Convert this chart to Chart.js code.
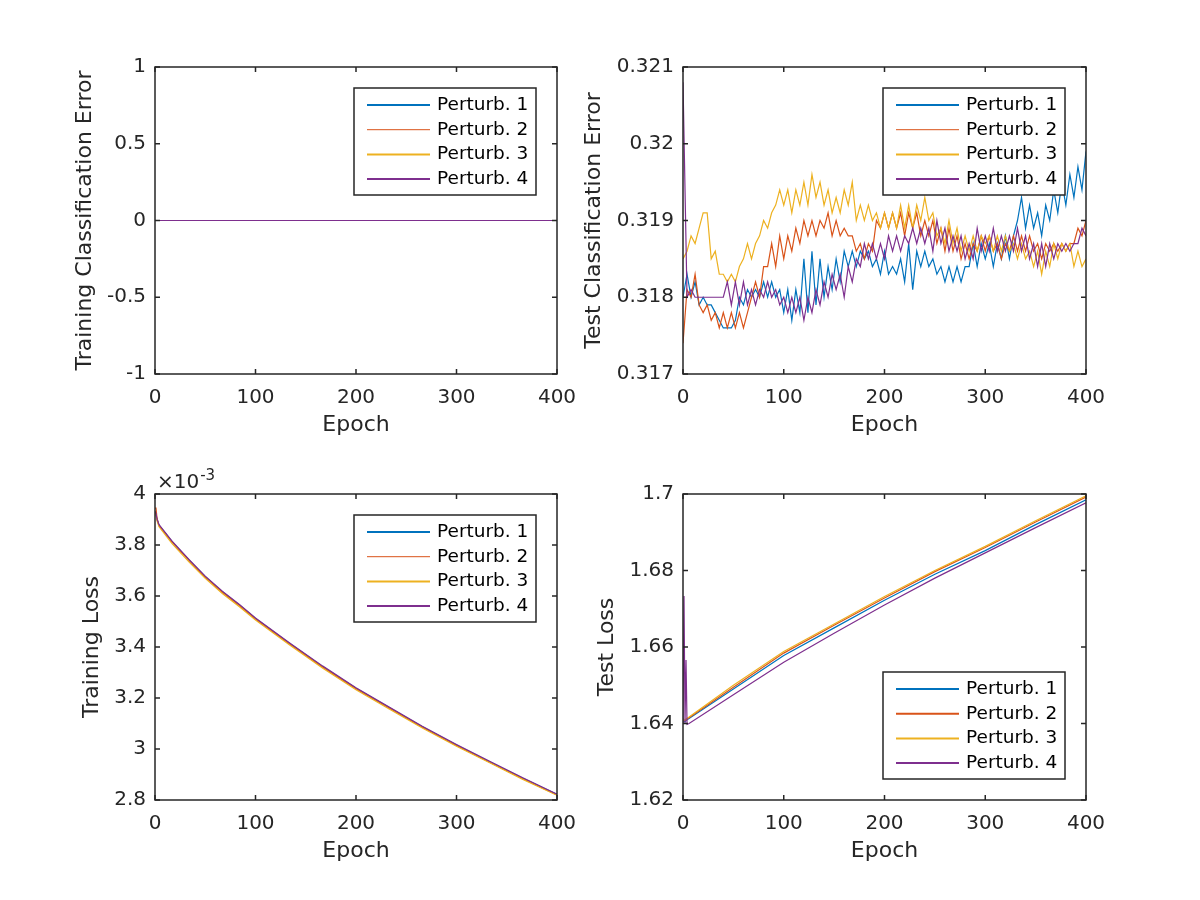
<!DOCTYPE html>
<html>
<head>
<meta charset="utf-8">
<script src="https://cdn.jsdelivr.net/npm/chart.js@4.4.1/dist/chart.umd.min.js"></script>
<style>
  html, body { margin: 0; padding: 0; background: #fff; }
  #fig { position: relative; width: 1200px; height: 900px; }
  #fig canvas { position: absolute; left: 0; top: 0; }
</style>
</head>
<body>
<div id="fig">
  <canvas id="trainErr" width="1200" height="900"></canvas>
  <canvas id="testErr" width="1200" height="900"></canvas>
  <canvas id="trainLoss" width="1200" height="900"></canvas>
  <canvas id="testLoss" width="1200" height="900"></canvas>
</div>
<script>
// ---- data ----
const names = ['Perturb. 1', 'Perturb. 2', 'Perturb. 3', 'Perturb. 4'];
const colors = ['#0072BD', '#D95319', '#EDB120', '#7E2F8E'];

const epochTicks = [0, 100, 200, 300, 400];
const epochTickLabels = ['0', '100', '200', '300', '400'];

// training classification error
const trainErrEpochs = [0, 400];
const trainErrP1 = [0, 0];
const trainErrP2 = [0, 0];
const trainErrP3 = [0, 0];
const trainErrP4 = [0, 0];
const trainErrTicks = [-1, -0.5, 0, 0.5, 1];
const trainErrTickLabels = ['-1', '-0.5', '0', '0.5', '1'];

// test classification error (every 4 epochs)
const testErrEpochs = [0,4,8,12,16,20,24,28,32,36,40,44,48,52,56,60,64,68,72,76,80,84,88,92,96,100,
  104,108,112,116,120,124,128,132,136,140,144,148,152,156,160,164,168,172,176,180,184,188,192,196,200,
  204,208,212,216,220,224,228,232,236,240,244,248,252,256,260,264,268,272,276,280,284,288,292,296,300,
  304,308,312,316,320,324,328,332,336,340,344,348,352,356,360,364,368,372,376,380,384,388,392,396,400];
const testErrP1 = [0.3180,0.3183,0.3180,0.3182,0.3179,0.3180,0.3179,0.3179,0.3178,0.3177,
  0.3176,0.3176,0.3176,0.3177,0.3180,0.3179,0.3181,0.3180,0.3181,0.3180,
  0.3182,0.3180,0.3182,0.3180,0.3181,0.3178,0.3181,0.3177,0.3181,0.3178,
  0.3185,0.3178,0.3186,0.3179,0.3185,0.3180,0.3184,0.3181,0.3185,0.3182,
  0.3186,0.3184,0.3186,0.3184,0.3186,0.3185,0.3186,0.3184,0.3185,0.3183,
  0.3186,0.3183,0.3184,0.3183,0.3185,0.3182,0.3187,0.3181,0.3186,0.3184,
  0.3186,0.3184,0.3185,0.3183,0.3184,0.3182,0.3184,0.3182,0.3184,0.3182,
  0.3184,0.3184,0.3187,0.3184,0.3187,0.3185,0.3187,0.3184,0.3187,0.3185,
  0.3188,0.3185,0.3188,0.3190,0.3193,0.3189,0.3192,0.3189,0.3191,0.3188,
  0.3192,0.3190,0.3194,0.3191,0.3195,0.3192,0.3196,0.3193,0.3197,0.3194,
  0.3199];
const testErrP2 = [0.3174,0.3181,0.3180,0.3183,0.3179,0.3178,0.3179,0.3177,0.3178,0.3176,
  0.3178,0.3176,0.3178,0.3176,0.3178,0.3176,0.3178,0.3180,0.3182,0.3180,
  0.3184,0.3184,0.3187,0.3184,0.3188,0.3185,0.3188,0.3186,0.3189,0.3187,
  0.3190,0.3188,0.3190,0.3188,0.3190,0.3189,0.3191,0.3188,0.3190,0.3188,
  0.3189,0.3188,0.3188,0.3186,0.3187,0.3185,0.3187,0.3186,0.3190,0.3189,
  0.3191,0.3189,0.3191,0.3189,0.3191,0.3188,0.3191,0.3189,0.3191,0.3188,
  0.3190,0.3188,0.3190,0.3187,0.3189,0.3186,0.3189,0.3186,0.3188,0.3185,
  0.3187,0.3185,0.3187,0.3186,0.3188,0.3186,0.3188,0.3186,0.3187,0.3185,
  0.3187,0.3186,0.3188,0.3186,0.3188,0.3186,0.3188,0.3186,0.3187,0.3185,
  0.3187,0.3186,0.3187,0.3186,0.3187,0.3186,0.3187,0.3187,0.3189,0.3188,
  0.3190];
const testErrP3 = [0.3185,0.3186,0.3188,0.3187,0.3189,0.3191,0.3191,0.3185,0.3186,0.3183,
  0.3183,0.3182,0.3183,0.3182,0.3184,0.3185,0.3187,0.3185,0.3187,0.3188,
  0.3190,0.3189,0.3191,0.3192,0.3194,0.3192,0.3194,0.3191,0.3194,0.3192,
  0.3195,0.3192,0.3196,0.3193,0.3195,0.3192,0.3194,0.3191,0.3193,0.3191,
  0.3194,0.3192,0.3195,0.3190,0.3192,0.3190,0.3192,0.3190,0.3191,0.3189,
  0.3191,0.3189,0.3191,0.3189,0.3192,0.3189,0.3192,0.3189,0.3192,0.3190,
  0.3193,0.3190,0.3191,0.3188,0.3189,0.3187,0.3190,0.3187,0.3189,0.3186,
  0.3188,0.3186,0.3188,0.3186,0.3188,0.3187,0.3188,0.3186,0.3188,0.3186,
  0.3188,0.3186,0.3187,0.3185,0.3187,0.3185,0.3186,0.3184,0.3186,0.3183,
  0.3186,0.3184,0.3187,0.3185,0.3187,0.3186,0.3187,0.3184,0.3186,0.3184,
  0.3185];
const testErrP4 = [0.3208,0.3180,0.3181,0.3180,0.3180,0.3180,0.3180,0.3180,0.3180,0.3180,
  0.3180,0.3182,0.3179,0.3182,0.3179,0.3182,0.3179,0.3181,0.3179,0.3181,
  0.3180,0.3182,0.3180,0.3181,0.3179,0.3180,0.3178,0.3180,0.3178,0.3180,
  0.3177,0.3180,0.3178,0.3181,0.3179,0.3182,0.3180,0.3183,0.3181,0.3183,
  0.3180,0.3184,0.3182,0.3185,0.3184,0.3187,0.3185,0.3187,0.3185,0.3187,
  0.3185,0.3188,0.3186,0.3188,0.3186,0.3188,0.3187,0.3189,0.3187,0.3189,
  0.3187,0.3189,0.3186,0.3190,0.3187,0.3189,0.3186,0.3188,0.3186,0.3188,
  0.3185,0.3187,0.3185,0.3189,0.3186,0.3188,0.3186,0.3189,0.3186,0.3188,
  0.3186,0.3188,0.3186,0.3189,0.3186,0.3188,0.3185,0.3187,0.3184,0.3187,
  0.3184,0.3187,0.3185,0.3187,0.3186,0.3187,0.3186,0.3187,0.3187,0.3189,
  0.3188];
const testErrTicks = [0.317, 0.318, 0.319, 0.320, 0.321];
const testErrTickLabels = ['0.317', '0.318', '0.319', '0.32', '0.321'];

// training loss, in units of 1e-3
const trainLossEpochs = [0, 1, 2, 4, 17, 34, 50, 67, 84, 100, 134, 167, 200, 233, 266, 300, 333, 366, 400];
const trainLossP1 = [3.930, 3.922, 3.900, 3.878, 3.813, 3.741, 3.676, 3.617, 3.565, 3.512, 3.414, 3.323, 3.238, 3.163, 3.087, 3.016, 2.950, 2.885, 2.822];
const trainLossP2 = [3.945, 3.945, 3.905, 3.876, 3.811, 3.739, 3.674, 3.615, 3.563, 3.510, 3.412, 3.321, 3.236, 3.161, 3.085, 3.014, 2.948, 2.883, 2.820];
const trainLossP3 = [3.925, 3.915, 3.895, 3.872, 3.805, 3.733, 3.669, 3.610, 3.558, 3.506, 3.408, 3.317, 3.232, 3.157, 3.082, 3.011, 2.946, 2.881, 2.819];
const trainLossP4 = [3.932, 3.924, 3.902, 3.880, 3.815, 3.743, 3.678, 3.619, 3.567, 3.514, 3.416, 3.325, 3.240, 3.165, 3.089, 3.018, 2.952, 2.887, 2.823];
const trainLossTicks = [2.8, 3, 3.2, 3.4, 3.6, 3.8, 4];
const trainLossTickLabels = ['2.8', '3', '3.2', '3.4', '3.6', '3.8', '4'];

// test loss
const testLossEpochs = [0, 1, 2, 3, 4, 6, 50, 100, 150, 200, 250, 300, 350, 400];
const testLossP1 = [1.6410, 1.6405, 1.6405, 1.6408, 1.6410, 1.6413, 1.6490, 1.6578, 1.6650, 1.6722, 1.6790, 1.6852, 1.6920, 1.6985];
const testLossP2 = [1.6412, 1.6407, 1.6408, 1.6410, 1.6412, 1.6415, 1.6495, 1.6584, 1.6657, 1.6728, 1.6797, 1.6860, 1.6927, 1.6992];
const testLossP3 = [1.6413, 1.6408, 1.6410, 1.6412, 1.6414, 1.6417, 1.6500, 1.6588, 1.6660, 1.6732, 1.6800, 1.6863, 1.6930, 1.6995];
const testLossP4 = [1.6400, 1.6733, 1.6400, 1.6566, 1.6398, 1.6400, 1.6475, 1.6560, 1.6636, 1.6710, 1.6780, 1.6846, 1.6912, 1.6977];
const testLossTicks = [1.62, 1.64, 1.66, 1.68, 1.7];
const testLossTickLabels = ['1.62', '1.64', '1.66', '1.68', '1.7'];

// ---- drawing ----
const ink = '#262626';
Chart.defaults.font.family = "'DejaVu Sans', sans-serif";
Chart.defaults.color = ink;

// box around the axes with inward tick marks on all four sides
const axesBox = {
    id: 'axesBox',
    afterDatasetsDraw(chart) {
        const { ctx, chartArea: a, scales: { x, y } } = chart;
        const len = 5;
        ctx.save();
        ctx.strokeStyle = ink;
        ctx.lineWidth = 1.5;
        ctx.beginPath();
        x.ticks.forEach(t => {
            const px = x.getPixelForValue(t.value);
            ctx.moveTo(px, a.bottom); ctx.lineTo(px, a.bottom - len);
            ctx.moveTo(px, a.top); ctx.lineTo(px, a.top + len);
        });
        y.ticks.forEach(t => {
            const py = y.getPixelForValue(t.value);
            ctx.moveTo(a.left, py); ctx.lineTo(a.left + len, py);
            ctx.moveTo(a.right, py); ctx.lineTo(a.right - len, py);
        });
        ctx.stroke();
        ctx.strokeRect(a.left, a.top, a.right - a.left, a.bottom - a.top);
        ctx.restore();
    }
};

// MATLAB-style boxed legend inside the axes
const boxLegend = {
    id: 'boxLegend',
    afterDraw(chart, args, opts) {
        const { ctx, chartArea: a } = chart;
        const w = 182, h = 107;
        const x = a.right - 21 - w;
        const y = opts.corner === 'se' ? a.bottom - 21 - h : a.top + 21;
        ctx.save();
        ctx.fillStyle = '#fff';
        ctx.fillRect(x, y, w, h);
        ctx.strokeStyle = ink;
        ctx.lineWidth = 1.5;
        ctx.strokeRect(x, y, w, h);
        ctx.font = "18.5px 'DejaVu Sans', sans-serif";
        ctx.textBaseline = 'middle';
        chart.data.datasets.forEach((ds, i) => {
            const cy = y + 17 + i * 24.7;
            ctx.strokeStyle = ds.borderColor;
            ctx.lineWidth = (opts.thin && i === 1) ? 1 : 2;
            ctx.beginPath();
            ctx.moveTo(x + 13, cy);
            ctx.lineTo(x + 76, cy);
            ctx.stroke();
            ctx.fillStyle = '#000';
            ctx.fillText(ds.label, x + 83, cy);
        });
        ctx.restore();
    }
};

// x10^-3 multiplier above the training loss axes
const expLabel = {
    id: 'expLabel',
    afterDraw(chart, args, opts) {
        if (!opts.text) return;
        const { ctx, chartArea: a } = chart;
        ctx.save();
        ctx.fillStyle = ink;
        ctx.textBaseline = 'alphabetic';
        ctx.font = "20px 'DejaVu Sans', sans-serif";
        const base = '\u00d710';
        ctx.fillText(base, a.left + 2, a.top - 6);
        const bw = ctx.measureText(base).width;
        ctx.font = "15px 'DejaVu Sans', sans-serif";
        ctx.fillText(opts.text, a.left + 2 + bw + 1, a.top - 14);
        ctx.restore();
    }
};

function makeSeries(epochs, lists) {
    return lists.map((vals, i) => ({
        label: names[i],
        data: vals.map((v, k) => ({ x: epochs[k], y: v })),
        borderColor: colors[i],
        borderWidth: 1.2,
        pointRadius: 0,
        tension: 0,
        fill: false,
        order: 4 - i
    }));
}

function makePanel(id, area, yWidth, yTitle, yMin, yMax, yTicks, yLabels, datasets, legendOpts, expText) {
    const xHeight = 68;
    return new Chart(document.getElementById(id), {
        type: 'line',
        data: { datasets },
        options: {
            responsive: false,
            animation: false,
            events: [],
            layout: {
                padding: {
                    left: area.l - yWidth,
                    top: area.t,
                    right: 1200 - area.r,
                    bottom: 900 - area.b - xHeight
                }
            },
            plugins: {
                legend: { display: false },
                tooltip: { enabled: false },
                boxLegend: legendOpts,
                expLabel: { text: expText }
            },
            scales: {
                x: {
                    type: 'linear',
                    min: 0,
                    max: 400,
                    afterFit: s => { s.height = xHeight; },
                    afterBuildTicks: s => { s.ticks = epochTicks.map(v => ({ value: v })); },
                    grid: { display: false, drawTicks: false },
                    border: { display: false },
                    ticks: {
                        autoSkip: false,
                        maxRotation: 0,
                        padding: 12,
                        font: { size: 20 },
                        callback: (v, i) => epochTickLabels[i]
                    },
                    title: { display: true, text: 'Epoch', font: { size: 22 }, padding: 4 }
                },
                y: {
                    type: 'linear',
                    min: yMin,
                    max: yMax,
                    afterFit: s => { s.width = yWidth; },
                    afterBuildTicks: s => { s.ticks = yTicks.map(v => ({ value: v })); },
                    grid: { display: false, drawTicks: false },
                    border: { display: false },
                    ticks: {
                        autoSkip: false,
                        padding: 9,
                        font: { size: 20 },
                        callback: (v, i) => yLabels[i]
                    },
                    title: { display: true, text: yTitle, font: { size: 22 }, padding: 4 }
                }
            }
        },
        plugins: [axesBox, boxLegend, expLabel]
    });
}

makePanel('trainErr', { l: 155, t: 67, r: 557, b: 374 }, 87, 'Training Classification Error',
    -1, 1, trainErrTicks, trainErrTickLabels,
    makeSeries(trainErrEpochs, [trainErrP1, trainErrP2, trainErrP3, trainErrP4]),
    { corner: 'ne', thin: true }, '');

makePanel('testErr', { l: 683, t: 67, r: 1086, b: 374 }, 106, 'Test Classification Error',
    0.317, 0.321, testErrTicks, testErrTickLabels,
    makeSeries(testErrEpochs, [testErrP1, testErrP2, testErrP3, testErrP4]),
    { corner: 'ne', thin: true }, '');

makePanel('trainLoss', { l: 155, t: 494, r: 557, b: 800 }, 80, 'Training Loss',
    2.8, 4, trainLossTicks, trainLossTickLabels,
    makeSeries(trainLossEpochs, [trainLossP1, trainLossP2, trainLossP3, trainLossP4]),
    { corner: 'ne', thin: true }, '-3');

makePanel('testLoss', { l: 683, t: 494, r: 1086, b: 800 }, 93, 'Test Loss',
    1.62, 1.7, testLossTicks, testLossTickLabels,
    makeSeries(testLossEpochs, [testLossP1, testLossP2, testLossP3, testLossP4]),
    { corner: 'se', thin: false }, '');
</script>
</body>
</html>
